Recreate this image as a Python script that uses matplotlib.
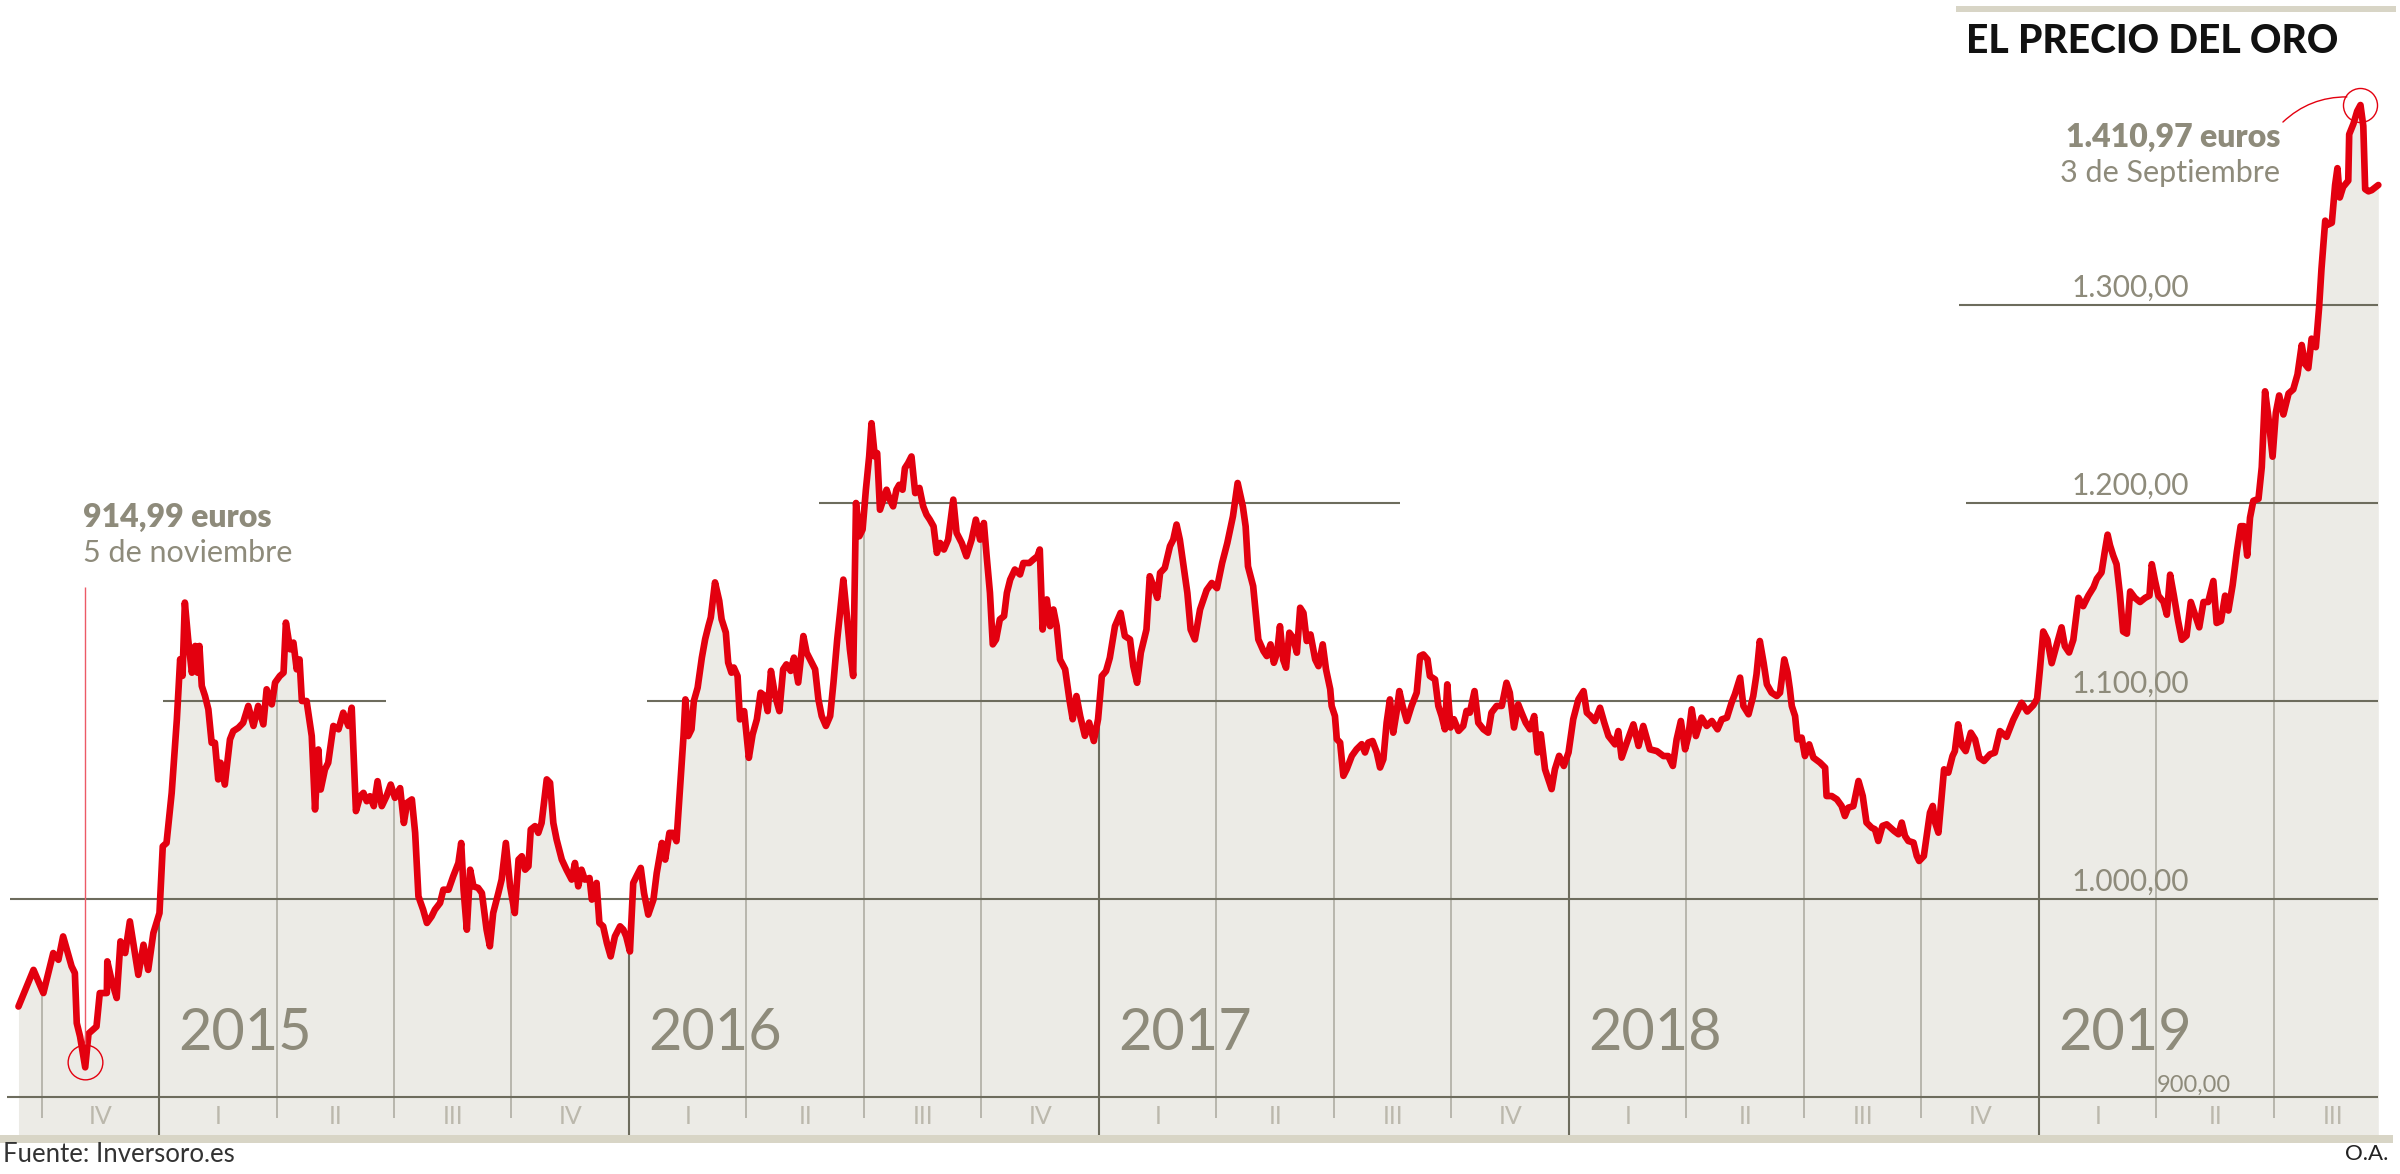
import numpy as np
from matplotlib import pyplot as plt
from matplotlib.patches import Rectangle

# Precio del oro (euros / onza); fecha en años decimales
fechas = [
    2014.701, 2014.733, 2014.754, 2014.775, 2014.786, 2014.796, 2014.814, 2014.821, 2014.825, 2014.832,
    2014.843, 2014.850, 2014.867, 2014.874, 2014.889, 2014.890, 2014.899, 2014.910, 2014.918, 2014.928,
    2014.938, 2014.956, 2014.967, 2014.977, 2014.988,
    # 2015
    2015.001, 2015.008, 2015.016, 2015.027, 2015.038, 2015.045, 2015.050, 2015.055, 2015.062, 2015.070,
    2015.077, 2015.082, 2015.086, 2015.091, 2015.098, 2015.105, 2015.112, 2015.119, 2015.126, 2015.131,
    2015.140, 2015.151, 2015.158, 2015.169, 2015.179, 2015.190, 2015.201, 2015.211, 2015.222, 2015.229,
    2015.240, 2015.247, 2015.257, 2015.265, 2015.270, 2015.279, 2015.286, 2015.293, 2015.299, 2015.304,
    2015.314, 2015.325, 2015.332, 2015.339, 2015.344, 2015.353, 2015.360, 2015.371, 2015.382, 2015.392,
    2015.403, 2015.410, 2015.419, 2015.428, 2015.435, 2015.442, 2015.449, 2015.457, 2015.465, 2015.474,
    2015.484, 2015.493, 2015.502, 2015.513, 2015.521, 2015.528, 2015.538, 2015.545, 2015.552, 2015.562,
    2015.570, 2015.580, 2015.587, 2015.598, 2015.605, 2015.616, 2015.626, 2015.637, 2015.643, 2015.648,
    2015.655, 2015.662, 2015.669, 2015.679, 2015.687, 2015.697, 2015.704, 2015.711, 2015.722, 2015.729,
    2015.738, 2015.747, 2015.757, 2015.765, 2015.772, 2015.779, 2015.786, 2015.791, 2015.800, 2015.807,
    2015.814, 2015.825, 2015.832, 2015.839, 2015.846, 2015.857, 2015.867, 2015.878, 2015.885, 2015.892,
    2015.899, 2015.906, 2015.916, 2015.921, 2015.931, 2015.937, 2015.945, 2015.953, 2015.961, 2015.970,
    2015.981, 2015.988, 2015.994,
    # 2016
    2016.002, 2016.009, 2016.016, 2016.025, 2016.032, 2016.041, 2016.052, 2016.059, 2016.070, 2016.077,
    2016.086, 2016.093, 2016.101, 2016.108, 2016.116, 2016.120, 2016.126, 2016.133, 2016.138, 2016.146,
    2016.155, 2016.162, 2016.169, 2016.174, 2016.183, 2016.192, 2016.197, 2016.206, 2016.211, 2016.218,
    2016.223, 2016.231, 2016.236, 2016.245, 2016.255, 2016.263, 2016.272, 2016.280, 2016.289, 2016.295,
    2016.302, 2016.311, 2016.320, 2016.328, 2016.335, 2016.344, 2016.351, 2016.360, 2016.371, 2016.378,
    2016.389, 2016.396, 2016.403, 2016.410, 2016.419, 2016.428, 2016.435, 2016.443, 2016.449, 2016.456,
    2016.463, 2016.470, 2016.477, 2016.483, 2016.490, 2016.497, 2016.504, 2016.511, 2016.516, 2016.523,
    2016.528, 2016.534, 2016.541, 2016.548, 2016.555, 2016.562, 2016.569, 2016.575, 2016.582, 2016.587,
    2016.594, 2016.601, 2016.609, 2016.618, 2016.626, 2016.633, 2016.640, 2016.648, 2016.655, 2016.662,
    2016.670, 2016.679, 2016.690, 2016.697, 2016.708, 2016.718, 2016.729, 2016.738, 2016.747, 2016.755,
    2016.761, 2016.768, 2016.774, 2016.781, 2016.789, 2016.798, 2016.804, 2016.811, 2016.821, 2016.832,
    2016.839, 2016.852, 2016.860, 2016.869, 2016.874, 2016.880, 2016.889, 2016.896, 2016.903, 2016.910,
    2016.917, 2016.928, 2016.937, 2016.944, 2016.952, 2016.960, 2016.970, 2016.979, 2016.989, 2016.998,
    # 2017
    2017.006, 2017.015, 2017.023, 2017.034, 2017.046, 2017.055, 2017.066, 2017.073, 2017.081, 2017.089,
    2017.101, 2017.108, 2017.116, 2017.124, 2017.130, 2017.140, 2017.151, 2017.158, 2017.165, 2017.172,
    2017.179, 2017.188, 2017.195, 2017.204, 2017.215, 2017.229, 2017.240, 2017.251, 2017.262, 2017.273,
    2017.285, 2017.295, 2017.306, 2017.312, 2017.317, 2017.328, 2017.339, 2017.350, 2017.357, 2017.365,
    2017.372, 2017.379, 2017.385, 2017.392, 2017.398, 2017.405, 2017.413, 2017.421, 2017.428, 2017.435,
    2017.442, 2017.450, 2017.460, 2017.467, 2017.476, 2017.483, 2017.492, 2017.495, 2017.502, 2017.506,
    2017.513, 2017.520, 2017.527, 2017.538, 2017.548, 2017.559, 2017.566, 2017.573, 2017.582, 2017.591,
    2017.598, 2017.605, 2017.612, 2017.619, 2017.626, 2017.633, 2017.639, 2017.646, 2017.655, 2017.665,
    2017.676, 2017.683, 2017.690, 2017.699, 2017.704, 2017.715, 2017.722, 2017.729, 2017.736, 2017.741,
    2017.748, 2017.755, 2017.765, 2017.775, 2017.782, 2017.789, 2017.799, 2017.807, 2017.818, 2017.828,
    2017.835, 2017.846, 2017.857, 2017.867, 2017.874, 2017.883, 2017.892, 2017.899, 2017.908, 2017.917,
    2017.926, 2017.933, 2017.940, 2017.949, 2017.963, 2017.970, 2017.979, 2017.989, 2017.999,
    # 2018
    2018.009, 2018.020, 2018.031, 2018.038, 2018.046, 2018.055, 2018.066, 2018.075, 2018.084, 2018.098,
    2018.105, 2018.112, 2018.123, 2018.137, 2018.148, 2018.158, 2018.172, 2018.187, 2018.201, 2018.211,
    2018.221, 2018.229, 2018.238, 2018.247, 2018.254, 2018.261, 2018.270, 2018.282, 2018.293, 2018.304,
    2018.316, 2018.325, 2018.336, 2018.346, 2018.353, 2018.364, 2018.371, 2018.382, 2018.392, 2018.399,
    2018.406, 2018.414, 2018.421, 2018.431, 2018.442, 2018.449, 2018.458, 2018.465, 2018.470, 2018.474,
    2018.481, 2018.486, 2018.495, 2018.502, 2018.511, 2018.520, 2018.534, 2018.545, 2018.548, 2018.559,
    2018.570, 2018.580, 2018.587, 2018.594, 2018.605, 2018.616, 2018.625, 2018.633, 2018.644, 2018.651,
    2018.658, 2018.667, 2018.676, 2018.684, 2018.692, 2018.701, 2018.708, 2018.715, 2018.722, 2018.733,
    2018.740, 2018.745, 2018.755, 2018.761, 2018.768, 2018.774, 2018.779, 2018.786, 2018.793, 2018.798,
    2018.807, 2018.816, 2018.821, 2018.828, 2018.836, 2018.844, 2018.855, 2018.864, 2018.873, 2018.883,
    2018.896, 2018.906, 2018.917, 2018.931, 2018.945, 2018.963, 2018.975, 2018.988, 2018.996,
    # 2019
    2019.002, 2019.009, 2019.018, 2019.027, 2019.038, 2019.048, 2019.055, 2019.064, 2019.073, 2019.084,
    2019.094, 2019.105, 2019.116, 2019.123, 2019.133, 2019.140, 2019.146, 2019.151, 2019.158, 2019.165,
    2019.172, 2019.179, 2019.187, 2019.194, 2019.204, 2019.215, 2019.226, 2019.235, 2019.240, 2019.247,
    2019.254, 2019.265, 2019.272, 2019.279, 2019.287, 2019.296, 2019.304, 2019.314, 2019.323, 2019.332,
    2019.341, 2019.350, 2019.360, 2019.371, 2019.378, 2019.387, 2019.396, 2019.403, 2019.412, 2019.421,
    2019.429, 2019.436, 2019.443, 2019.449, 2019.456, 2019.467, 2019.474, 2019.481, 2019.488, 2019.497,
    2019.504, 2019.511, 2019.520, 2019.531, 2019.541, 2019.550, 2019.559, 2019.566, 2019.573, 2019.580,
    2019.589, 2019.596, 2019.601, 2019.609, 2019.613, 2019.623, 2019.630, 2019.635, 2019.640, 2019.647,
    2019.658, 2019.660, 2019.669, 2019.677, 2019.684, 2019.690, 2019.694, 2019.701, 2019.708, 2019.722,
]

precio = [
    945.7, 964.2, 952.5, 972.7, 969.3, 981.1, 966.0, 962.6, 937.3, 930.6,
    915.0, 932.0, 935.6, 952.5, 952.5, 968.5, 959.0, 950.0, 978.6, 972.7,
    988.7, 961.7, 976.9, 964.2, 982.8,
    # 2015
    992.9, 1026.6, 1028.3, 1053.6, 1090.7, 1121.1, 1112.7, 1149.7, 1131.2, 1114.3,
    1127.8, 1114.3, 1127.8, 1107.6, 1102.5, 1095.8, 1078.9, 1078.9, 1060.4, 1068.8,
    1057.8, 1080.6, 1084.8, 1086.5, 1089.0, 1097.5, 1087.4, 1097.5, 1088.2, 1105.9,
    1098.3, 1109.3, 1112.6, 1114.3, 1139.6, 1126.1, 1129.5, 1116.0, 1121.0, 1100.0,
    1100.0, 1082.3, 1045.2, 1075.5, 1055.3, 1065.4, 1068.8, 1087.4, 1085.7, 1094.1,
    1087.4, 1096.6, 1044.4, 1051.9, 1053.6, 1049.4, 1051.9, 1046.9, 1059.5, 1046.9,
    1051.9, 1057.8, 1051.1, 1056.0, 1038.4, 1048.6, 1050.3, 1033.4, 1001.3, 994.6,
    987.9, 991.2, 994.6, 998.0, 1004.7, 1004.7, 1011.5, 1018.2, 1028.3, 1004.7,
    984.5, 1014.8, 1006.4, 1005.6, 1003.0, 984.5, 976.1, 992.9, 1003.0, 1009.8,
    1028.3, 1006.4, 992.9, 1019.9, 1021.6, 1014.8, 1016.5, 1035.1, 1036.8, 1033.4,
    1038.4, 1060.4, 1058.7, 1038.4, 1030.0, 1019.9, 1014.8, 1009.8, 1018.2, 1006.4,
    1014.8, 1009.8, 1010.6, 999.7, 1008.1, 987.9, 986.2, 977.7, 971.0, 981.1,
    986.2, 984.5, 981.1,
    # 2016
    973.5, 1008.1, 1011.5, 1015.7, 1003.0, 992.1, 999.7, 1013.1, 1028.3, 1019.9,
    1033.4, 1033.4, 1029.2, 1053.6, 1082.3, 1100.8, 1082.3, 1085.7, 1100.0, 1106.7,
    1121.9, 1131.2, 1137.9, 1142.2, 1159.9, 1150.6, 1141.3, 1134.6, 1119.4, 1114.3,
    1116.9, 1112.6, 1090.7, 1094.9, 1071.3, 1083.1, 1090.7, 1104.2, 1102.5, 1094.9,
    1115.2, 1102.5, 1094.9, 1116.0, 1118.5, 1115.2, 1121.9, 1109.3, 1132.8, 1124.4,
    1119.3, 1116.0, 1100.8, 1092.4, 1087.4, 1092.4, 1109.2, 1131.1, 1144.5, 1161.3,
    1144.5, 1126.1, 1112.6, 1200.0, 1183.2, 1186.6, 1206.7, 1223.5, 1240.3, 1223.5,
    1225.2, 1196.6, 1201.7, 1206.7, 1201.7, 1198.3, 1206.7, 1209.2, 1206.7, 1217.6,
    1220.2, 1223.5, 1205.0, 1207.6, 1198.3, 1194.1, 1191.6, 1188.2, 1174.8, 1179.8,
    1176.5, 1181.5, 1201.7, 1184.9, 1179.8, 1173.1, 1181.5, 1191.6, 1181.5, 1189.9,
    1173.1, 1154.6, 1128.6, 1131.1, 1141.2, 1142.9, 1154.6, 1161.3, 1166.4, 1163.9,
    1169.7, 1169.7, 1171.4, 1173.1, 1176.5, 1136.1, 1151.3, 1137.8, 1146.2, 1137.8,
    1121.0, 1116.0, 1100.8, 1090.8, 1102.5, 1092.4, 1082.4, 1089.1, 1079.8, 1090.8,
    # 2017
    1112.6, 1115.1, 1121.8, 1137.8, 1144.5, 1132.8, 1131.1, 1117.6, 1109.2, 1124.4,
    1136.1, 1163.0, 1157.9, 1152.1, 1164.7, 1167.2, 1178.2, 1181.5, 1189.1, 1181.5,
    1169.7, 1154.6, 1136.1, 1131.1, 1146.2, 1156.0, 1159.6, 1157.0, 1169.7, 1179.8,
    1193.3, 1210.1, 1198.3, 1188.2, 1168.0, 1158.0, 1131.1, 1125.2, 1122.7, 1128.6,
    1119.3, 1124.4, 1137.8, 1120.7, 1116.8, 1134.5, 1131.9, 1124.4, 1147.1, 1144.5,
    1130.3, 1133.6, 1121.0, 1117.6, 1128.6, 1116.0, 1105.9, 1097.5, 1092.4, 1080.7,
    1079.0, 1062.2, 1065.5, 1072.3, 1075.6, 1078.2, 1074.0, 1079.0, 1079.8, 1074.0,
    1066.4, 1070.6, 1089.1, 1100.8, 1084.0, 1094.1, 1105.0, 1097.5, 1089.9, 1097.5,
    1104.2, 1122.7, 1123.5, 1121.0, 1112.6, 1110.9, 1097.5, 1092.4, 1085.7, 1108.4,
    1086.6, 1090.8, 1084.9, 1087.4, 1095.0, 1094.1, 1105.0, 1089.0, 1085.7, 1084.0,
    1094.1, 1097.5, 1097.5, 1109.2, 1104.2, 1086.6, 1098.3, 1094.1, 1089.0, 1085.7,
    1092.4, 1074.0, 1083.2, 1065.5, 1055.5, 1065.5, 1072.3, 1067.2, 1074.0,
    # 2018
    1090.8, 1100.8, 1105.0, 1094.1, 1092.4, 1089.9, 1096.6, 1089.1, 1082.3, 1078.1,
    1084.8, 1071.4, 1079.0, 1088.2, 1077.3, 1087.4, 1075.6, 1074.7, 1072.2, 1072.2,
    1067.2, 1080.6, 1089.9, 1075.6, 1082.3, 1095.8, 1082.3, 1091.6, 1087.4, 1089.9,
    1085.7, 1090.7, 1091.6, 1099.2, 1103.4, 1111.8, 1097.5, 1093.3, 1102.5, 1113.5,
    1130.3, 1119.4, 1108.4, 1104.2, 1102.5, 1104.2, 1121.0, 1114.3, 1105.9, 1097.5,
    1092.4, 1080.6, 1081.5, 1072.2, 1078.1, 1071.4, 1068.9, 1066.3, 1052.0, 1052.0,
    1050.3, 1047.0, 1041.9, 1046.1, 1046.9, 1059.6, 1052.0, 1038.6, 1036.0, 1035.2,
    1029.3, 1036.9, 1037.7, 1036.0, 1034.3, 1032.7, 1038.6, 1031.8, 1029.3, 1028.5,
    1021.7, 1019.2, 1021.7, 1031.8, 1043.6, 1047.0, 1038.6, 1033.5, 1052.0, 1065.5,
    1063.8, 1072.2, 1074.7, 1088.2, 1077.3, 1074.7, 1084.0, 1080.6, 1071.4, 1069.7,
    1073.1, 1073.9, 1084.8, 1081.9, 1090.4, 1099.1, 1094.7, 1097.9, 1101.1,
    # 2019
    1116.0, 1135.1, 1130.9, 1119.1, 1128.7, 1137.2, 1127.7, 1124.5, 1130.9, 1152.1,
    1147.9, 1153.2, 1157.4, 1161.7, 1164.9, 1175.5, 1184.0, 1178.7, 1173.4, 1169.1,
    1154.3, 1135.1, 1134.0, 1155.3, 1152.1, 1150.0, 1152.1, 1153.2, 1169.1, 1160.6,
    1153.2, 1150.0, 1143.6, 1163.8, 1153.2, 1140.4, 1130.9, 1133.0, 1150.0, 1143.6,
    1137.2, 1150.0, 1150.0, 1160.6, 1139.4, 1140.4, 1153.2, 1145.7, 1158.5, 1175.5,
    1188.3, 1188.3, 1173.4, 1192.6, 1201.1, 1202.1, 1218.1, 1256.4, 1243.6, 1223.4,
    1245.7, 1254.3, 1244.7, 1255.3, 1257.4, 1264.9, 1279.8, 1270.2, 1268.1, 1283.0,
    1278.7, 1298.9, 1318.1, 1342.6, 1340.4, 1341.5, 1360.6, 1369.1, 1354.3, 1359.6,
    1362.8, 1386.2, 1391.5, 1397.9, 1401.0, 1390.4, 1358.5, 1357.4, 1358.0, 1360.6,
]

anios = [2015, 2016, 2017, 2018, 2019]
etiquetas_trim = ["IV"] + ["I", "II", "III", "IV"] * 4 + ["I", "II", "III"]
inicio_trim = np.arange(2014.75, 2019.51, 0.25)

# líneas de referencia: valor, desde, hasta
ref_valor = [900, 1000, 1100, 1100, 1200, 1200, 1300]
ref_desde = [2014.677, 2014.683, 2015.008, 2016.038, 2016.404, 2018.845, 2018.830]
ref_hasta = [2019.721, 2019.721, 2015.482, 2019.721, 2017.640, 2019.721, 2019.721]
etiquetas_ref = {900: "900,00", 1000: "1.000,00", 1100: "1.100,00", 1200: "1.200,00", 1300: "1.300,00"}

ROJO = "#e3000f"
GRIS_TEXTO = "#8e8b7b"
GRIS_CLARO = "#bbb8ac"
RELLENO = "#ecebe6"
LINEA = "#6d6c5d"
LINEA_TRIM = "#aaa89d"
BANDA = "#d8d5c6"

plt.rcParams["font.family"] = ["Lato", "DejaVu Sans"]

fig = plt.figure(figsize=(24, 11.74), dpi=100)
ax = fig.add_axes([0, 0, 1, 1])
ax.set_xlim(2014.6617, 2019.7681)
ax.set_ylim(861.11, 1454.04)
ax.axis("off")

t = np.array(fechas)
p = np.array(precio)
base = 880.8

ax.fill_between(t, p, base, color=RELLENO, lw=0, zorder=1)

# lineas verticales de trimestre y año, desde la curva hacia abajo
for q in inicio_trim:
    tope = np.interp(q, t, p)
    if abs(q - round(q)) < 1e-6:
        ax.vlines(q, base, tope, color=LINEA, lw=1.5, zorder=2)
    else:
        ax.vlines(q, 889.4, tope, color=LINEA_TRIM, lw=1.1, zorder=2)

for v, a, b in zip(ref_valor, ref_desde, ref_hasta):
    ax.hlines(v, a, b, color=LINEA, lw=1.5, zorder=3)

for v, txt in etiquetas_ref.items():
    x = 2019.251 if v == 900 else 2019.070
    dy = 2.7 if v == 900 else 4.2
    fs = 17 if v == 900 else 21.5
    ax.text(x, v + dy, txt, fontsize=fs, color=GRIS_TEXTO,
            va="baseline", ha="left", zorder=4)

for anio in anios:
    ax.text(anio + 0.042, 923.7, str(anio), fontsize=41.5,
            color=GRIS_TEXTO, va="baseline", ha="left", zorder=4)

for i, lab in enumerate(etiquetas_trim):
    ax.text(inicio_trim[i] + 0.125, 889.9, lab, fontsize=18,
            color=GRIS_CLARO, ha="center", va="center", zorder=4)

ax.plot(t, p, color=ROJO, lw=4.8, zorder=5, solid_joinstyle="round", solid_capstyle="round")

# minimo y maximo
i_min = int(np.argmin(p))
i_max = int(np.argmax(p))
ax.plot(t[i_min], p[i_min] + 2.5, "o", ms=25, mfc="none", mec=ROJO, mew=1.0, zorder=6)
ax.plot(t[i_max], p[i_max], "o", ms=24.5, mfc="none", mec=ROJO, mew=1.0, zorder=6)
ax.vlines(t[i_min], 926.8, 1157.6, color="#ec5a66", lw=1.0, zorder=6)

ax.text(2014.838, 1192.9, "914,99 euros", fontsize=23, fontweight="heavy",
        color=GRIS_TEXTO, va="center", ha="left")
ax.text(2014.838, 1174.7, "5 de noviembre", fontsize=22, color=GRIS_TEXTO,
        va="center", ha="left")
ax.text(2019.513, 1384.8, "1.410,97 euros", fontsize=23, fontweight="heavy",
        color=GRIS_TEXTO, va="center", ha="right")
ax.text(2019.513, 1366.7, "3 de Septiembre", fontsize=22, color=GRIS_TEXTO,
        va="center", ha="right")
ax.annotate("", xy=(2019.655, 1405.1), xytext=(2019.519, 1392.4),
            arrowprops=dict(arrowstyle="-", color=ROJO, lw=1.0, shrinkA=0, shrinkB=0,
                            connectionstyle="arc3,rad=-0.2"))

# bandas decorativas
fig.add_artist(Rectangle((0, 0.0264), 0.997, 0.0068, transform=fig.transFigure,
                         color=BANDA, lw=0))
fig.add_artist(Rectangle((0.815, 0.9898), 0.1833, 0.0051, transform=fig.transFigure,
                         color=BANDA, lw=0))

fig.text(0.8192, 0.9549, "EL PRECIO DEL ORO", fontsize=28, fontweight="black",
         color="#111111", va="baseline", ha="left")
fig.text(0.0013, 0.017, "Fuente: Inversoro.es", fontsize=18.5,
         color="#333333", va="center", ha="left")
fig.text(0.995, 0.017, "O.A.", fontsize=16, color="#222222", va="center", ha="right")

fig.savefig("out.png", dpi=100)
